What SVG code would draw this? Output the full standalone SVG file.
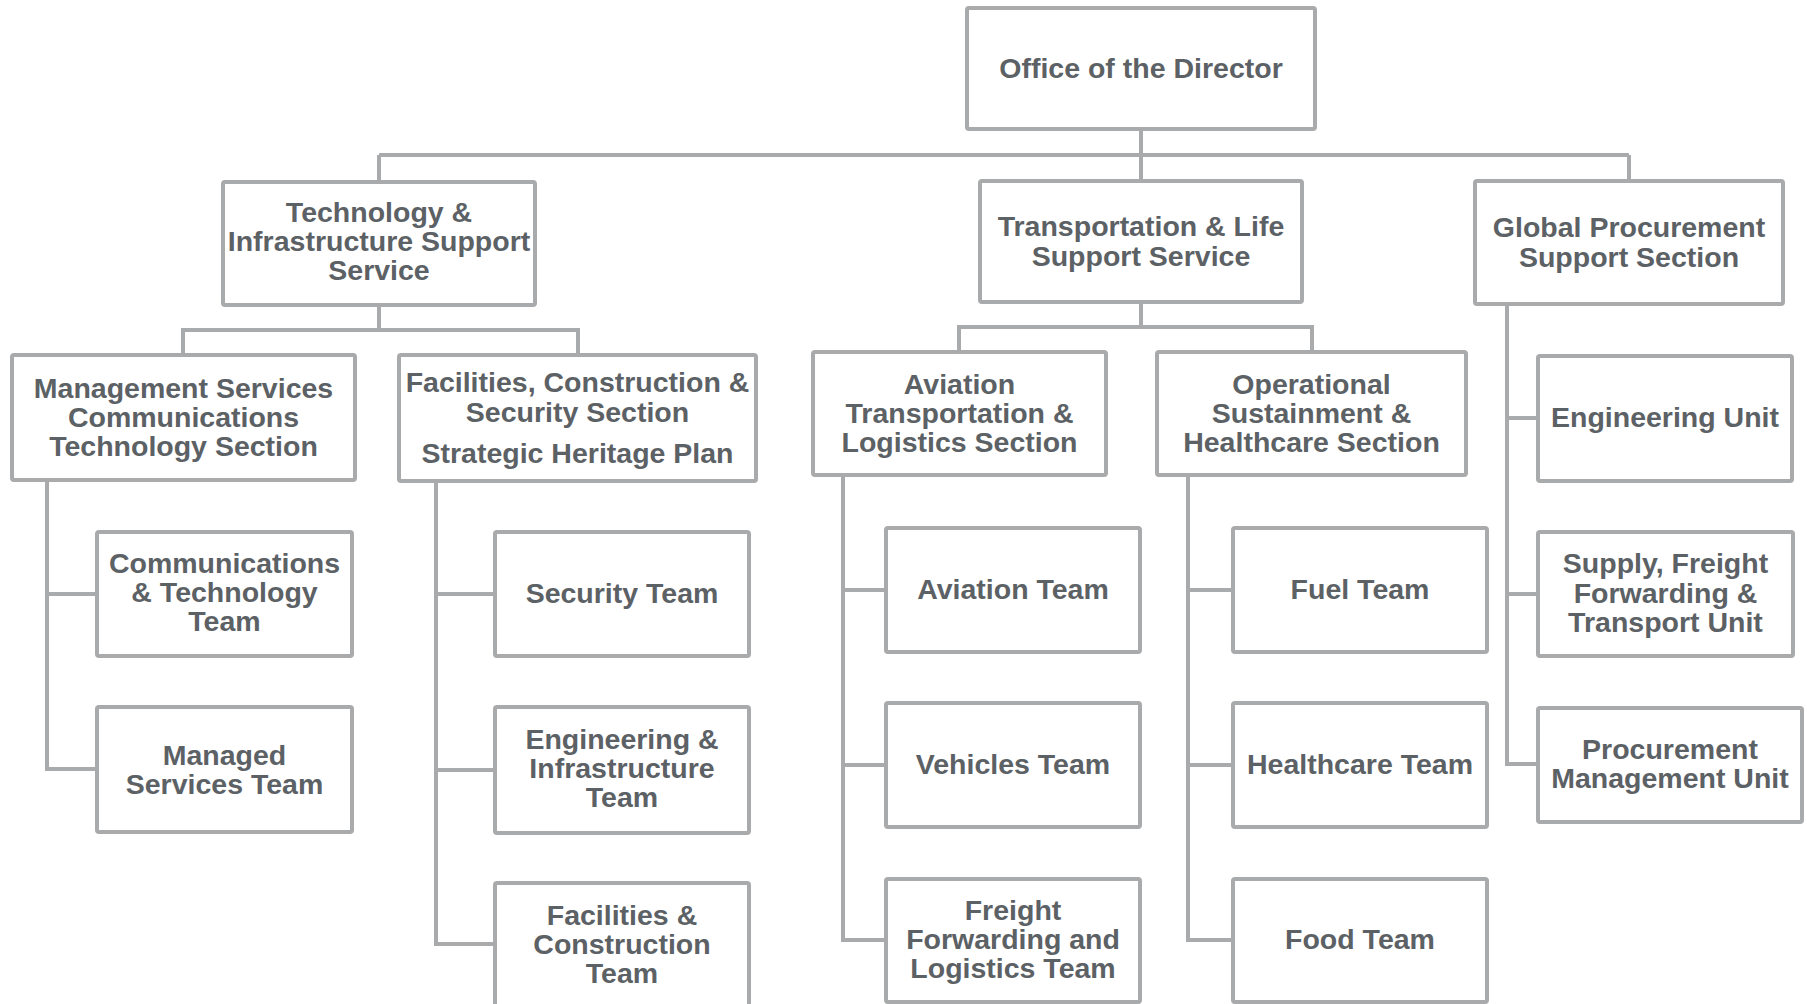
<svg xmlns="http://www.w3.org/2000/svg" width="1807" height="1004" viewBox="0 0 1807 1004">
<style>
.box{fill:#ffffff;stroke:#a8aaab;stroke-width:4;}
.ln{fill:none;stroke:#a8aaab;stroke-width:4;stroke-linejoin:miter;}
text{font-family:"Liberation Sans",Arial,sans-serif;font-weight:bold;font-size:28.5px;fill:#5c6165;text-anchor:middle;}
</style>
<rect width="1807" height="1004" fill="#ffffff"/>
<g id="connectors">
<path class="ln" d="M1141,129 V155 M379,155 H1629 M379,155 V182 M1141,155 V181 M1629,155 V181"/>
<path class="ln" d="M379,305 V330 M183,355 V330 H578 V355"/>
<path class="ln" d="M47,480 V769 H97 M47,594 H97"/>
<path class="ln" d="M436,481 V944 H495 M436,594 H495 M436,770 H495"/>
<path class="ln" d="M1141,302 V327 M959,352 V327 H1312 V352"/>
<path class="ln" d="M843,475 V940 H886 M843,590 H886 M843,765 H886"/>
<path class="ln" d="M1188,475 V940 H1233 M1188,590 H1233 M1188,765 H1233"/>
<path class="ln" d="M1507,304 V764 H1538 M1507,418 H1538 M1507,594 H1538"/>
</g>
<g id="office"><rect class="box" x="967" y="8" width="348" height="121" rx="2"/><text x="1141" y="78">Office of the Director</text></g>
<g id="tech"><rect class="box" x="223" y="182" width="312" height="123" rx="2"/><text x="379" y="222">Technology &amp;</text><text x="379" y="251">Infrastructure Support</text><text x="379" y="280">Service</text></g>
<g id="transport"><rect class="box" x="980" y="181" width="322" height="121" rx="2"/><text x="1141" y="236">Transportation &amp; Life</text><text x="1141" y="266">Support Service</text></g>
<g id="global"><rect class="box" x="1475" y="181" width="308" height="123" rx="2"/><text x="1629" y="237">Global Procurement</text><text x="1629" y="267">Support Section</text></g>
<g id="mgmt"><rect class="box" x="12" y="355" width="343" height="125" rx="2"/><text x="183.5" y="398">Management Services</text><text x="183.5" y="427">Communications</text><text x="183.5" y="456">Technology Section</text></g>
<g id="facsec"><rect class="box" x="399" y="355" width="357" height="126" rx="2"/><text x="577.5" y="392">Facilities, Construction &amp;</text><text x="577.5" y="422">Security Section</text><text x="577.5" y="463">Strategic Heritage Plan</text></g>
<g id="commteam"><rect class="box" x="97" y="532" width="255" height="124" rx="2"/><text x="224.5" y="573">Communications</text><text x="224.5" y="602">&amp; Technology</text><text x="224.5" y="631">Team</text></g>
<g id="managed"><rect class="box" x="97" y="707" width="255" height="125" rx="2"/><text x="224.5" y="765">Managed</text><text x="224.5" y="794">Services Team</text></g>
<g id="security"><rect class="box" x="495" y="532" width="254" height="124" rx="2"/><text x="622" y="603">Security Team</text></g>
<g id="enginfra"><rect class="box" x="495" y="707" width="254" height="126" rx="2"/><text x="622" y="749">Engineering &amp;</text><text x="622" y="778">Infrastructure</text><text x="622" y="807">Team</text></g>
<g id="facteam"><rect class="box" x="495" y="883" width="254" height="140" rx="2"/><text x="622" y="925">Facilities &amp;</text><text x="622" y="954">Construction</text><text x="622" y="983">Team</text></g>
<g id="aviationsec"><rect class="box" x="813" y="352" width="293" height="123" rx="2"/><text x="959.5" y="394">Aviation</text><text x="959.5" y="423">Transportation &amp;</text><text x="959.5" y="452">Logistics Section</text></g>
<g id="opsec"><rect class="box" x="1157" y="352" width="309" height="123" rx="2"/><text x="1311.5" y="394">Operational</text><text x="1311.5" y="423">Sustainment &amp;</text><text x="1311.5" y="452">Healthcare Section</text></g>
<g id="aviationteam"><rect class="box" x="886" y="528" width="254" height="124" rx="2"/><text x="1013" y="599">Aviation Team</text></g>
<g id="vehicles"><rect class="box" x="886" y="703" width="254" height="124" rx="2"/><text x="1013" y="774">Vehicles Team</text></g>
<g id="freight"><rect class="box" x="886" y="879" width="254" height="123" rx="2"/><text x="1013" y="920">Freight</text><text x="1013" y="949">Forwarding and</text><text x="1013" y="978">Logistics Team</text></g>
<g id="fuel"><rect class="box" x="1233" y="528" width="254" height="124" rx="2"/><text x="1360" y="599">Fuel Team</text></g>
<g id="healthcare"><rect class="box" x="1233" y="703" width="254" height="124" rx="2"/><text x="1360" y="774">Healthcare Team</text></g>
<g id="food"><rect class="box" x="1233" y="879" width="254" height="123" rx="2"/><text x="1360" y="949">Food Team</text></g>
<g id="engunit"><rect class="box" x="1538" y="356" width="254" height="125" rx="2"/><text x="1665" y="427">Engineering Unit</text></g>
<g id="supply"><rect class="box" x="1538" y="532" width="255" height="124" rx="2"/><text x="1665.5" y="573">Supply, Freight</text><text x="1665.5" y="603">Forwarding &amp;</text><text x="1665.5" y="632">Transport Unit</text></g>
<g id="procurement"><rect class="box" x="1538" y="708" width="264" height="114" rx="2"/><text x="1670" y="759">Procurement</text><text x="1670" y="788">Management Unit</text></g>
</svg>
